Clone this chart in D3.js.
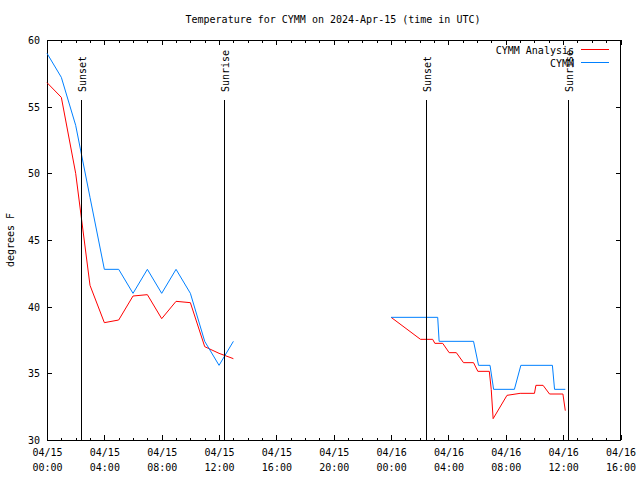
<!DOCTYPE html>
<html><head><meta charset="utf-8">
<script src="https://cdn.jsdelivr.net/npm/d3@7"></script>
<style>
html,body{margin:0;padding:0;background:#fff;}
svg{display:block;}
text{font-family:"DejaVu Sans Mono","Liberation Mono",monospace;font-size:10px;fill:#000;}
</style>
</head><body><svg id="c" width="640" height="480"></svg>
<script>
const title = "Temperature for CYMM on 2024-Apr-15 (time in UTC)";
const yLabel = "degrees F";
const seriesNames = ["CYMM Analysis", "CYMM"];
const seriesColors = ["#ff0000", "#0080ff"];

const analysisTimes = [
  "2024-04-15T00:00Z","2024-04-15T01:00Z","2024-04-15T02:00Z","2024-04-15T03:00Z",
  "2024-04-15T04:00Z","2024-04-15T05:00Z","2024-04-15T06:00Z","2024-04-15T07:00Z",
  "2024-04-15T08:00Z","2024-04-15T09:00Z","2024-04-15T10:00Z","2024-04-15T11:00Z",
  "2024-04-15T12:00Z","2024-04-15T13:00Z","2024-04-15T18:00Z",
  "2024-04-16T00:00Z","2024-04-16T02:03Z","2024-04-16T02:54Z","2024-04-16T03:03Z",
  "2024-04-16T03:36Z","2024-04-16T04:03Z","2024-04-16T04:33Z","2024-04-16T05:03Z",
  "2024-04-16T05:45Z","2024-04-16T06:03Z","2024-04-16T06:51Z","2024-04-16T06:59Z",
  "2024-04-16T07:07Z","2024-04-16T08:05Z","2024-04-16T09:00Z","2024-04-16T10:00Z",
  "2024-04-16T10:06Z","2024-04-16T10:36Z","2024-04-16T11:03Z","2024-04-16T11:59Z",
  "2024-04-16T12:09Z"
];
const analysisTemps = [
  56.8, 55.7, 50.0, 41.6, 38.8, 39.0, 40.8, 40.9, 39.1, 40.4, 40.3, 37.0, 36.5, 36.1, null,
  39.2, 37.55, 37.55, 37.25, 37.25, 36.55, 36.55, 35.8, 35.8, 35.15, 35.15, 33.8,
  31.6, 33.35, 33.5, 33.5, 34.1, 34.1, 33.45, 33.45, 32.2
];

const obsTimes = [
  "2024-04-15T00:00Z","2024-04-15T01:00Z","2024-04-15T02:00Z","2024-04-15T03:00Z",
  "2024-04-15T04:00Z","2024-04-15T05:00Z","2024-04-15T06:00Z","2024-04-15T07:00Z",
  "2024-04-15T08:00Z","2024-04-15T09:00Z","2024-04-15T10:00Z","2024-04-15T11:00Z",
  "2024-04-15T12:00Z","2024-04-15T13:00Z","2024-04-15T18:00Z",
  "2024-04-16T00:00Z","2024-04-16T03:15Z","2024-04-16T03:21Z","2024-04-16T05:45Z",
  "2024-04-16T06:06Z","2024-04-16T06:54Z","2024-04-16T07:09Z","2024-04-16T08:36Z",
  "2024-04-16T09:03Z","2024-04-16T11:15Z","2024-04-16T11:24Z","2024-04-16T12:09Z"
];
const obsTemps = [
  59.0, 57.2, 53.6, 48.2, 42.8, 42.8, 41.0, 42.8, 41.0, 42.8, 41.0, 37.4, 35.6, 37.4, null,
  39.2, 39.2, 37.4, 37.4, 35.6, 35.6, 33.8, 33.8, 35.6, 35.6, 33.8, 33.8
];

const sunTimes = ["2024-04-15T02:25Z","2024-04-15T12:22Z","2024-04-16T02:28Z","2024-04-16T12:22Z"];
const sunLabels = ["Sunset","Sunrise","Sunset","Sunrise"];
const yTicks = [30, 35, 40, 45, 50, 55, 60];
const xDomain = ["2024-04-15T00:00Z", "2024-04-16T16:00Z"];

const svg = d3.select("#c");
const L = 47, R = 620.5, T = 40, B = 440;
const x = d3.scaleUtc().domain(xDomain.map(s => new Date(s))).range([L, R]);
const y = d3.scaleLinear().domain([30, 60]).range([B, T]);

// frame
svg.append("rect").attr("x", L).attr("y", T).attr("width", R - L).attr("height", B - T)
  .attr("fill", "none").attr("stroke", "#000").attr("stroke-width", 1).attr("shape-rendering", "crispEdges");

const major = d3.utcHour.every(4), minor = d3.utcHour.every(1);
function style(g) {
  g.select(".domain").remove();
  g.selectAll("line").attr("stroke", "#000").attr("shape-rendering", "crispEdges");
  g.attr("font-family", null).attr("font-size", null);
}
// bottom minor + major
svg.append("g").attr("transform", `translate(0,${B})`)
  .call(d3.axisBottom(x).ticks(minor).tickSize(-2.5).tickFormat("")).call(style);
const bx = svg.append("g").attr("transform", `translate(0,${B})`)
  .call(d3.axisBottom(x).ticks(major).tickSize(-5)).call(style);
const f1 = d3.utcFormat("%m/%d"), f2 = d3.utcFormat("%H:%M");
bx.selectAll(".tick text").each(function(d) {
  const t = d3.select(this);
  t.text(null).attr("dy", null).attr("y", null);
  t.append("tspan").attr("x", 0).attr("y", 16).text(f1(d));
  t.append("tspan").attr("x", 0).attr("y", 30.5).text(f2(d));
});
// top mirror
svg.append("g").attr("transform", `translate(0,${T})`)
  .call(d3.axisTop(x).ticks(minor).tickSize(-2.5).tickFormat("")).call(style);
svg.append("g").attr("transform", `translate(0,${T})`)
  .call(d3.axisTop(x).ticks(major).tickSize(-5).tickFormat("")).call(style);
// left
const ly = svg.append("g").attr("transform", `translate(${L},0)`)
  .call(d3.axisLeft(y).tickValues(yTicks).tickSize(-5).tickPadding(7)).call(style);
ly.selectAll(".tick text").attr("dy", "0.35em");
// right mirror
svg.append("g").attr("transform", `translate(${R},0)`)
  .call(d3.axisRight(y).tickValues(yTicks).tickSize(-5).tickFormat("")).call(style);

// data
const line = d3.line().defined(d => d.v !== null).x(d => x(d.t)).y(d => y(d.v));
const series = [
  analysisTimes.map((t, i) => ({ t: new Date(t), v: analysisTemps[i] })),
  obsTimes.map((t, i) => ({ t: new Date(t), v: obsTemps[i] }))
];
series.forEach((s, i) => {
  svg.append("path").datum(s).attr("d", line).attr("fill", "none")
    .attr("stroke", seriesColors[i]).attr("stroke-width", 1);
});

// sun lines
sunTimes.forEach((s, i) => {
  const xx = Math.floor(x(new Date(s))) + 0.5;
  svg.append("line").attr("x1", xx).attr("x2", xx).attr("y1", 100).attr("y2", B)
    .attr("stroke", "#000").attr("stroke-width", 1.2).attr("shape-rendering", "crispEdges");
  svg.append("text").attr("transform", `translate(${xx + 4.5},92) rotate(-90)`)
    .attr("text-anchor", "start").text(sunLabels[i]);
});

// legend
seriesNames.forEach((n, i) => {
  const yy = 49.5 + i * 13;
  svg.append("text").attr("x", 574).attr("y", yy + 4.5).attr("text-anchor", "end").text(n);
  svg.append("line").attr("x1", 581).attr("x2", 609).attr("y1", yy).attr("y2", yy)
    .attr("stroke", seriesColors[i]).attr("stroke-width", 1).attr("shape-rendering", "crispEdges");
});

// title & y label
svg.append("text").attr("x", 333).attr("y", 23).attr("text-anchor", "middle").text(title);
svg.append("text").attr("transform", "translate(14,240) rotate(-90)")
  .attr("text-anchor", "middle").text(yLabel);
</script>
</body></html>
